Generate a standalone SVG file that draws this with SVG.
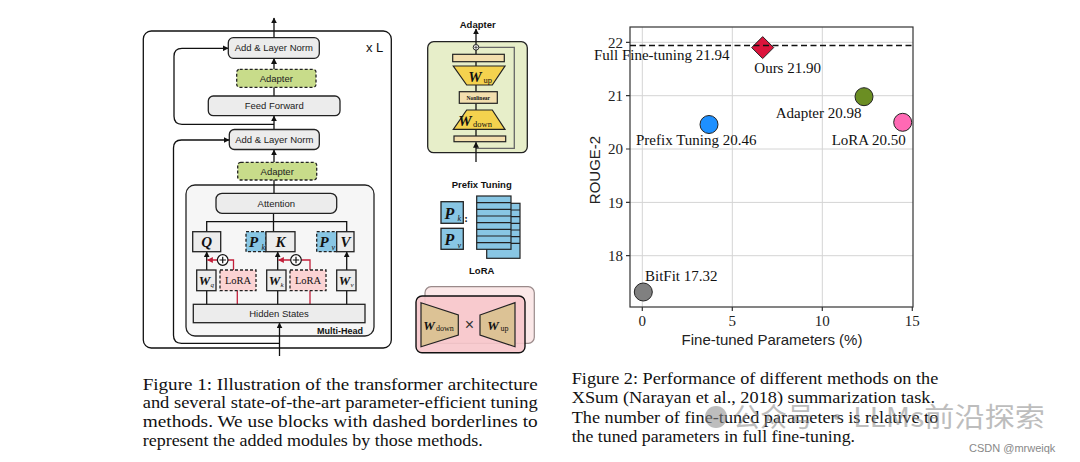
<svg xmlns="http://www.w3.org/2000/svg" width="1080" height="462" viewBox="0 0 1080 462">
<style>
.sans{font-family:"Liberation Sans",Arial,sans-serif}
.serif{font-family:"Liberation Serif","Times New Roman",serif}
.box{fill:#ececec;stroke:#222;stroke-width:1.3}
.adp{fill:#c8dc8a;stroke:#222;stroke-width:1.3;stroke-dasharray:3 2}
.ln{fill:none;stroke:#111;stroke-width:1.3}
.red{fill:none;stroke:#c21f3a;stroke-width:1.3}
.lbl{font-family:"Liberation Sans",Arial,sans-serif;font-size:9.5px;fill:#222;text-anchor:middle}
.m{font-family:"Liberation Serif","Times New Roman",serif;font-style:italic;font-weight:bold;fill:#111;text-anchor:middle}
.grid{stroke:#d4d4d4;stroke-width:1}
.tick{font-family:"Liberation Serif","Times New Roman",serif;font-size:15px;fill:#222}
.pt{font-family:"Liberation Serif","Times New Roman",serif;font-size:15px;fill:#111}
.cap{font-family:"Liberation Serif","Times New Roman",serif;font-size:17px;fill:#111}
</style>
<defs>
<marker id="ah" viewBox="0 0 10 10" refX="9" refY="5" markerWidth="6" markerHeight="6" markerUnits="userSpaceOnUse" orient="auto"><path d="M0,0 L10,5 L0,10 z" fill="#111"/></marker>
<marker id="ahr" viewBox="0 0 10 10" refX="9" refY="5" markerWidth="6" markerHeight="6" markerUnits="userSpaceOnUse" orient="auto"><path d="M0,0 L10,5 L0,10 z" fill="#c21f3a"/></marker>
</defs>
<rect width="1080" height="462" fill="#fff"/>

<!-- ===== Figure 1 left: transformer ===== -->
<g id="layer-box">
<rect x="143.3" y="31" width="248" height="317" rx="8" fill="none" stroke="#111" stroke-width="1.3"/>
<text x="366" y="52" class="sans" font-size="13" fill="#111">x L</text>
</g>
<g id="multihead">
<rect x="186" y="185" width="188" height="151" rx="9" fill="#f6f6f6" stroke="#222" stroke-width="1.3"/>
<text x="363" y="334" class="sans" font-size="9" font-weight="bold" fill="#111" text-anchor="end">Multi-Head</text>
</g>
<g id="connectors">
<line class="ln" x1="274" y1="38" x2="274" y2="18" marker-end="url(#ah)"/>
<line class="ln" x1="274" y1="69.3" x2="274" y2="58.5" marker-end="url(#ah)"/>
<line class="ln" x1="274" y1="96" x2="274" y2="87.3"/>
<line class="ln" x1="274" y1="130" x2="274" y2="116" marker-end="url(#ah)"/>
<line class="ln" x1="274" y1="162" x2="274" y2="150" marker-end="url(#ah)"/>
<line class="ln" x1="274" y1="180" x2="274" y2="193.3"/>
<path class="ln" d="M274,124.3 H182 Q174,124.3 174,116.3 V56.3 Q174,48.3 182,48.3 H228" marker-end="url(#ah)"/>
<path class="ln" d="M279.5,343.3 H181.5 Q173.5,343.3 173.5,335.3 V148 Q173.5,140 181.5,140 H229" marker-end="url(#ah)"/>
<line class="ln" x1="279.5" y1="356" x2="279.5" y2="323" marker-end="url(#ah)"/>
<line class="ln" x1="273.5" y1="213.3" x2="273.5" y2="221.7"/>
<path class="ln" d="M206.7,231.7 V221.7 H346.7 V231.7 M273.5,221.7 V231.7"/>
<line class="ln" x1="206.7" y1="304.3" x2="206.7" y2="290.7"/>
<line class="ln" x1="206.7" y1="270" x2="206.7" y2="252" marker-end="url(#ah)"/>
<line class="ln" x1="277.7" y1="304.3" x2="277.7" y2="290.7"/>
<line class="ln" x1="277.7" y1="270" x2="277.7" y2="252" marker-end="url(#ah)"/>
<line class="ln" x1="346.7" y1="304.3" x2="346.7" y2="290.7"/>
<line class="ln" x1="346.7" y1="270" x2="346.7" y2="252" marker-end="url(#ah)"/>
<line class="red" x1="237.3" y1="304.3" x2="237.3" y2="290.7"/>
<path class="red" d="M233.5,270 V260 H207.5" marker-end="url(#ahr)"/>
<line class="red" x1="310" y1="304.3" x2="310" y2="290.7"/>
<path class="red" d="M310,270 V260 H278.5" marker-end="url(#ahr)"/>
</g>
<g id="add-norm-1"><rect class="box" x="228.3" y="37.7" width="91" height="20.6" rx="5"/><text class="lbl" x="273.8" y="51.3">Add &amp; Layer Norm</text></g>
<g id="adapter-1"><rect class="adp" x="236.7" y="69.3" width="79.3" height="18" rx="3"/><text class="lbl" x="276.3" y="81.7">Adapter</text></g>
<g id="feed-forward"><rect class="box" x="208.3" y="96" width="131.7" height="19.7" rx="5"/><text class="lbl" x="274.2" y="109.3">Feed Forward</text></g>
<g id="add-norm-2"><rect class="box" x="229.3" y="129.5" width="90" height="20" rx="5"/><text class="lbl" x="274.3" y="142.9">Add &amp; Layer Norm</text></g>
<g id="adapter-2"><rect class="adp" x="237.7" y="162.3" width="79" height="17.7" rx="3"/><text class="lbl" x="277.2" y="174.6">Adapter</text></g>
<g id="attention"><rect class="box" x="216" y="193.3" width="120.7" height="20" rx="6"/><text class="lbl" x="276.3" y="207" font-size="10.5">Attention</text></g>
<g id="q"><rect class="box" x="192.7" y="231.7" width="28" height="20"/><text class="m" x="206.7" y="247" font-size="15">Q</text></g>
<g id="pk"><rect x="246" y="231.7" width="20" height="20" fill="#88c6e4" stroke="#222" stroke-width="1.3" stroke-dasharray="3 2"/><text class="m" x="253.5" y="247" font-size="15">P</text><text x="261.5" y="249.5" class="serif" font-style="italic" font-size="8" fill="#111">k</text></g>
<g id="k"><rect class="box" x="266" y="231.7" width="29" height="20"/><text class="m" x="280.5" y="247" font-size="15">K</text></g>
<g id="pv"><rect x="316.7" y="231.7" width="20" height="20" fill="#88c6e4" stroke="#222" stroke-width="1.3" stroke-dasharray="3 2"/><text class="m" x="324" y="247" font-size="15">P</text><text x="331.5" y="249.5" class="serif" font-style="italic" font-size="8" fill="#111">v</text></g>
<g id="v"><rect class="box" x="336.7" y="231.7" width="17.3" height="20"/><text class="m" x="345.4" y="247" font-size="15">V</text></g>
<g id="wq"><rect class="box" x="196.7" y="270" width="19.3" height="20.7"/><text class="m" x="204.5" y="285" font-size="13">W</text><text x="210.5" y="287" class="serif" font-style="italic" font-size="7" fill="#111">q</text></g>
<g id="lora-q"><rect x="220" y="270" width="36" height="20.7" fill="#fbd3d3" stroke="#222" stroke-width="1.3" stroke-dasharray="3 2"/><text x="238" y="284" class="serif" font-size="10.5" fill="#111" text-anchor="middle">LoRA</text></g>
<g id="plus-q"><circle cx="222.7" cy="260" r="5.3" fill="#fff" stroke="#111" stroke-width="1.2"/><path d="M219.5,260 H225.9 M222.7,256.8 V263.2" stroke="#111" stroke-width="1.2"/></g>
<g id="wk"><rect class="box" x="266.7" y="270" width="19.3" height="20.7"/><text class="m" x="274.5" y="285" font-size="13">W</text><text x="280.5" y="287" class="serif" font-style="italic" font-size="7" fill="#111">k</text></g>
<g id="lora-k"><rect x="290" y="270" width="36" height="20.7" fill="#fbd3d3" stroke="#222" stroke-width="1.3" stroke-dasharray="3 2"/><text x="308" y="284" class="serif" font-size="10.5" fill="#111" text-anchor="middle">LoRA</text></g>
<g id="plus-k"><circle cx="296" cy="260" r="5.3" fill="#fff" stroke="#111" stroke-width="1.2"/><path d="M292.8,260 H299.2 M296,256.8 V263.2" stroke="#111" stroke-width="1.2"/></g>
<g id="wv"><rect class="box" x="336.7" y="270" width="19.3" height="20.7"/><text class="m" x="344.5" y="285" font-size="13">W</text><text x="350.5" y="287" class="serif" font-style="italic" font-size="7" fill="#111">v</text></g>
<g id="hidden-states"><rect class="box" x="193.3" y="304.3" width="171.7" height="18.4"/><text class="lbl" x="279" y="316.8">Hidden States</text></g>

<!-- ===== Adapter panel ===== -->
<g id="adapter-panel">
<text x="477.7" y="27.5" class="sans" font-size="9.5" font-weight="bold" fill="#111" text-anchor="middle">Adapter</text>
<rect x="427.7" y="41.7" width="99.6" height="111" rx="6" fill="#e7eec9" stroke="#222" stroke-width="1.3"/>
<path d="M479,47.3 H514.3 V148.3 H476" fill="none" stroke="#666" stroke-width="1.3"/>
<line class="ln" x1="476" y1="44.5" x2="476" y2="29" marker-end="url(#ah)"/>
<line class="ln" x1="476" y1="61.7" x2="476" y2="66"/>
<line class="ln" x1="476" y1="85" x2="476" y2="91.7"/>
<line class="ln" x1="476" y1="103.3" x2="476" y2="110"/>
<line class="ln" x1="476" y1="129.3" x2="476" y2="136"/>
<line class="ln" x1="476" y1="54.3" x2="476" y2="50"/>
<line class="ln" x1="476" y1="162" x2="476" y2="142.3" marker-end="url(#ah)"/>
<circle cx="476" cy="47.3" r="2.8" fill="#fff" stroke="#111" stroke-width="0.9"/>
<path d="M474.2,47.3 H477.8 M476,45.5 V49.1" stroke="#111" stroke-width="0.7"/>
<rect x="452.7" y="54.3" width="51.6" height="7.4" fill="#f3dfae" stroke="#222" stroke-width="1.2"/>
<path d="M453.3,66 H505 L492.3,85 H466.7 Z" fill="#f4d24e" stroke="#222" stroke-width="1.2"/>
<text class="m" x="475" y="82" font-size="15">W</text><text x="483.5" y="83" class="serif" font-size="8.5" fill="#111">up</text>
<rect x="459.3" y="91.7" width="38" height="11.6" fill="#f3dfae" stroke="#222" stroke-width="1.2"/>
<text x="478.3" y="99.7" class="serif" font-size="5.5" font-weight="bold" fill="#111" text-anchor="middle">Nonlinear</text>
<path d="M466.7,110 H492.3 L505,129.3 H453.3 Z" fill="#f4d24e" stroke="#222" stroke-width="1.2"/>
<text class="m" x="465" y="126" font-size="15">W</text><text x="473" y="127" class="serif" font-size="8.5" fill="#111">down</text>
<rect x="454" y="136" width="51.7" height="5.7" fill="#f3dfae" stroke="#222" stroke-width="1.2"/>
</g>

<!-- ===== Prefix Tuning panel ===== -->
<g id="prefix-panel">
<text x="481.7" y="188" class="sans" font-size="9.5" font-weight="bold" fill="#111" text-anchor="middle">Prefix Tuning</text>
<rect x="441" y="201.7" width="22.3" height="21.6" fill="#88c6e4" stroke="#222" stroke-width="1.3"/>
<text class="m" x="449.5" y="218.5" font-size="16">P</text><text x="457.5" y="221" class="serif" font-style="italic" font-size="8" fill="#111">k</text>
<rect x="441" y="228.3" width="22.3" height="21" fill="#88c6e4" stroke="#222" stroke-width="1.3"/>
<text class="m" x="449.5" y="245" font-size="16">P</text><text x="457.5" y="247.5" class="serif" font-style="italic" font-size="8" fill="#111">v</text>
<text x="466" y="222" class="serif" font-size="11" font-weight="bold" fill="#111" text-anchor="middle">:</text>
<g fill="#88c6e4" stroke="#222" stroke-width="1.2">
<rect x="486.7" y="203.3" width="33.3" height="55"/>
<path d="M511,210 H520 M511,216.7 H520 M511,223.3 H520 M511,230 H520 M511,236.7 H520 M511,243.3 H520" fill="none"/>
<rect x="476.7" y="196" width="34.3" height="53.3"/>
<path d="M476.7,202.7 H511 M476.7,209.3 H511 M476.7,216 H511 M476.7,222.7 H511 M476.7,229.3 H511 M476.7,236 H511 M476.7,242.7 H511" fill="none"/>
</g>
</g>

<!-- ===== LoRA panel ===== -->
<g id="lora-panel">
<text x="481.7" y="273.5" class="sans" font-size="9.5" font-weight="bold" fill="#111" text-anchor="middle">LoRA</text>
<rect x="425" y="286.7" width="109.3" height="56.6" rx="6" fill="#fbe8e8" stroke="#9a8a8a" stroke-width="1.2"/>
<rect x="416" y="296" width="109" height="56.7" rx="6" fill="#f7c6cb" fill-opacity="0.9" stroke="#111" stroke-width="1.4"/>
<path d="M421,302.7 L458.3,315 V335 L421,346.7 Z" fill="#dcc295" stroke="#222" stroke-width="1.2"/>
<text class="m" x="429" y="330" font-size="13">W</text><text x="436" y="331" class="serif" font-size="8" fill="#111">down</text>
<text x="469.5" y="330" class="sans" font-size="16" fill="#333" text-anchor="middle">×</text>
<path d="M480,315 L515,302.7 V346.7 L480,335 Z" fill="#dcc295" stroke="#222" stroke-width="1.2"/>
<text class="m" x="493" y="330" font-size="13">W</text><text x="500.5" y="331" class="serif" font-size="8" fill="#111">up</text>
</g>

<!-- ===== Chart ===== -->
<g id="chart">
<g class="grid">
<line x1="642.3" y1="27" x2="642.3" y2="307"/><line x1="732.3" y1="27" x2="732.3" y2="307"/><line x1="822.3" y1="27" x2="822.3" y2="307"/>
<line x1="630" y1="42.3" x2="913" y2="42.3"/><line x1="630" y1="95.7" x2="913" y2="95.7"/><line x1="630" y1="149" x2="913" y2="149"/><line x1="630" y1="202.4" x2="913" y2="202.4"/><line x1="630" y1="255.7" x2="913" y2="255.7"/>
</g>
<rect x="630" y="27" width="283" height="280" fill="none" stroke="#333" stroke-width="1.2"/>
<path d="M626,42.3 H630 M626,95.7 H630 M626,149 H630 M626,202.4 H630 M626,255.7 H630 M642.3,307 V311 M732.3,307 V311 M822.3,307 V311 M912.3,307 V311" stroke="#333" stroke-width="1.2"/>
<g class="tick" text-anchor="end">
<text x="623" y="47.5">22</text><text x="623" y="100.9">21</text><text x="623" y="154.2">20</text><text x="623" y="207.6">19</text><text x="623" y="260.9">18</text>
</g>
<g class="tick" text-anchor="middle">
<text x="642.3" y="325.5">0</text><text x="732.3" y="325.5">5</text><text x="822.3" y="325.5">10</text><text x="912.3" y="325.5">15</text>
</g>
<text x="772" y="345" class="sans" font-size="15" fill="#222" text-anchor="middle">Fine-tuned Parameters (%)</text>
<text transform="translate(600,170) rotate(-90)" class="sans" font-size="15" fill="#222" text-anchor="middle">ROUGE-2</text>
<path d="M762.7,36.6 L773.7,47.6 L762.7,58.6 L751.7,47.6 Z" fill="#dc143c" stroke="#222" stroke-width="1"/>
<line x1="630" y1="45.5" x2="913" y2="45.5" stroke="#111" stroke-width="1.7" stroke-dasharray="6 3.5"/>
<circle cx="864" cy="96.7" r="9" fill="#6b8e23" stroke="#222" stroke-width="1"/>
<circle cx="902.7" cy="122.3" r="9" fill="#ff69b4" stroke="#222" stroke-width="1"/>
<circle cx="709" cy="124.5" r="9" fill="#1e90ff" stroke="#222" stroke-width="1"/>
<circle cx="643.3" cy="292" r="9" fill="#808080" stroke="#222" stroke-width="1"/>
<text class="pt" x="594" y="60">Full Fine-tuning 21.94</text>
<text class="pt" x="754.3" y="73">Ours 21.90</text>
<text class="pt" x="775.7" y="117.5">Adapter 20.98</text>
<text class="pt" x="831.7" y="145">LoRA 20.50</text>
<text class="pt" x="636" y="145">Prefix Tuning 20.46</text>
<text class="pt" x="645" y="281">BitFit 17.32</text>
</g>

<!-- ===== Captions ===== -->
<g id="caption-1" class="cap">
<text x="142.7" y="389.5" textLength="395" lengthAdjust="spacingAndGlyphs">Figure 1: Illustration of the transformer architecture</text>
<text x="142.7" y="408" textLength="395" lengthAdjust="spacingAndGlyphs">and several state-of-the-art parameter-efficient tuning</text>
<text x="142.7" y="426.8" textLength="395" lengthAdjust="spacingAndGlyphs">methods.  We use blocks with dashed borderlines to</text>
<text x="142.7" y="445.5" textLength="340" lengthAdjust="spacingAndGlyphs">represent the added modules by those methods.</text>
</g>
<g id="caption-2" class="cap">
<text x="571.7" y="383.5" textLength="366.6" lengthAdjust="spacingAndGlyphs">Figure 2: Performance of different methods on the</text>
<text x="571.7" y="402.5" textLength="363.3" lengthAdjust="spacingAndGlyphs">XSum (Narayan et al., 2018) summarization task.</text>
<text x="571.7" y="422.5" textLength="366.6" lengthAdjust="spacingAndGlyphs">The number of fine-tuned parameters is relative to</text>
<text x="571.7" y="441.5" textLength="283.3" lengthAdjust="spacingAndGlyphs">the tuned parameters in full fine-tuning.</text>
</g>
<g id="watermark" opacity="0.55">
<circle cx="716" cy="417" r="11" fill="#888"/>
<text x="733" y="426.5" font-family="'Noto Sans CJK SC',sans-serif" font-size="27" fill="#888">公众号</text>
<text x="837" y="426.5" font-family="'Noto Sans CJK SC',sans-serif" font-size="27" fill="#888" text-anchor="middle">·</text>
<text x="853" y="426.5" font-family="'Noto Sans CJK SC',sans-serif" font-size="27" fill="#888" textLength="192" lengthAdjust="spacingAndGlyphs">LLMs前沿探索</text>
</g>
<text x="969" y="451.5" class="sans" font-size="11" fill="#888">CSDN @mrweiqk</text>
</svg>
